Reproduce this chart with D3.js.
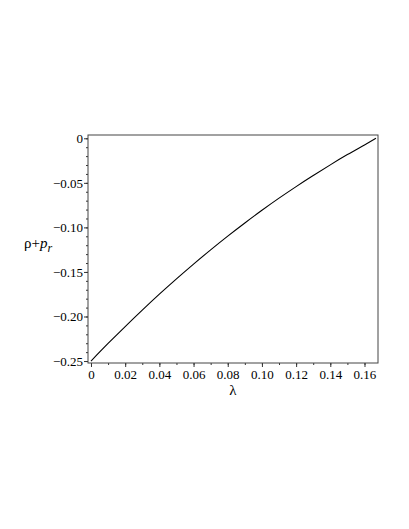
<!DOCTYPE html>
<html>
<head>
<meta charset="utf-8">
<script src="https://cdn.jsdelivr.net/npm/d3@7"></script>
<style>
  body { margin: 0; background: #fff; }
  .axis path, .axis line { stroke: #333; }
</style>
</head>
<body>
<div id="chart"></div>
<script>
// values
var lambda = [0, 0.01, 0.02, 0.03, 0.04, 0.05, 0.06, 0.07, 0.08, 0.09,
              0.10, 0.11, 0.12, 0.13, 0.14, 0.15, 0.16, 0.1667];
var rhoPr  = [-0.2500, -0.2303, -0.2113, -0.1929, -0.1750, -0.1578, -0.1412, -0.1252, -0.1098, -0.0950,
              -0.0808, -0.0672, -0.0542, -0.0418, -0.0298, -0.0183, -0.0075, 0];
var xTicks = [0, 0.02, 0.04, 0.06, 0.08, 0.10, 0.12, 0.14, 0.16];
var yTicks = [0, -0.05, -0.10, -0.15, -0.20, -0.25];

var FONT = "'Liberation Serif', 'Times New Roman', Times, serif";

var W = 409, H = 529;
var margin = {top: 135, right: 31, bottom: 166, left: 88},
    width = W - margin.left - margin.right,
    height = H - margin.top - margin.bottom;

var x = d3.scaleLinear()
    .domain([-0.00175, 0.1679])
    .range([0, width]);

var y = d3.scaleLinear()
    .domain([-0.2522, 0.0037])
    .range([height, 0]);

function fmt(d) {
  if (d === 0) return "0";
  return d3.format(".2f")(d).replace("-", "\u2212");
}

var svg = d3.select("#chart").append("svg")
    .attr("width", W)
    .attr("height", H)
  .append("g")
    .attr("transform", "translate(" + margin.left + "," + margin.top + ")");

// minor ticks
var xMinor = d3.range(0, 0.1675, 0.01);
var yMinor = d3.range(0, -0.2505, -0.01);

svg.append("g")
    .attr("class", "axis")
    .attr("transform", "translate(0," + height + ")")
    .call(d3.axisBottom(x).tickValues(xMinor).tickSize(2).tickFormat(""))
    .call(function(g) { g.select(".domain").remove(); });

svg.append("g")
    .attr("class", "axis")
    .call(d3.axisLeft(y).tickValues(yMinor).tickSize(2).tickFormat(""))
    .call(function(g) { g.select(".domain").remove(); });

// major ticks
svg.append("g")
    .attr("class", "axis")
    .attr("transform", "translate(0," + height + ")")
    .call(d3.axisBottom(x).tickValues(xTicks).tickSize(4).tickPadding(3).tickFormat(fmt))
    .call(function(g) {
      g.attr("font-family", FONT);
      g.select(".domain").remove();
      g.selectAll("text").style("font-family", FONT).style("font-size", "13px");
    });

svg.append("g")
    .attr("class", "axis")
    .call(d3.axisLeft(y).tickValues(yTicks).tickSize(4).tickPadding(1).tickFormat(fmt))
    .call(function(g) {
      g.attr("font-family", FONT);
      g.select(".domain").remove();
      g.selectAll("text").style("font-family", FONT).style("font-size", "13px");
    });

// frame
svg.append("rect")
    .attr("width", width)
    .attr("height", height)
    .attr("fill", "none")
    .attr("stroke", "#444")
    .attr("stroke-width", 1);

// curve
var pts = lambda.map(function(l, i) { return [l, rhoPr[i]]; });
var line = d3.line()
    .x(function(d) { return x(d[0]); })
    .y(function(d) { return y(d[1]); })
    .curve(d3.curveNatural);

svg.append("path")
    .datum(pts)
    .attr("fill", "none")
    .attr("stroke", "#000")
    .attr("stroke-width", 1.1)
    .attr("d", line);

// axis labels
svg.append("text")
    .attr("x", width / 2)
    .attr("y", height + 32)
    .attr("text-anchor", "middle")
    .style("font-family", FONT)
    .style("font-size", "15px")
    .text("\u03bb");

var yl = svg.append("text")
    .attr("x", 24 - margin.left)
    .attr("y", 248 - margin.top)
    .style("font-family", FONT)
    .style("font-size", "15px");
yl.append("tspan").text("\u03c1+");
yl.append("tspan").style("font-style", "italic").text("p");
yl.append("tspan").style("font-style", "italic").style("font-size", "12px").attr("dy", 4).text("r");
</script>
</body>
</html>
